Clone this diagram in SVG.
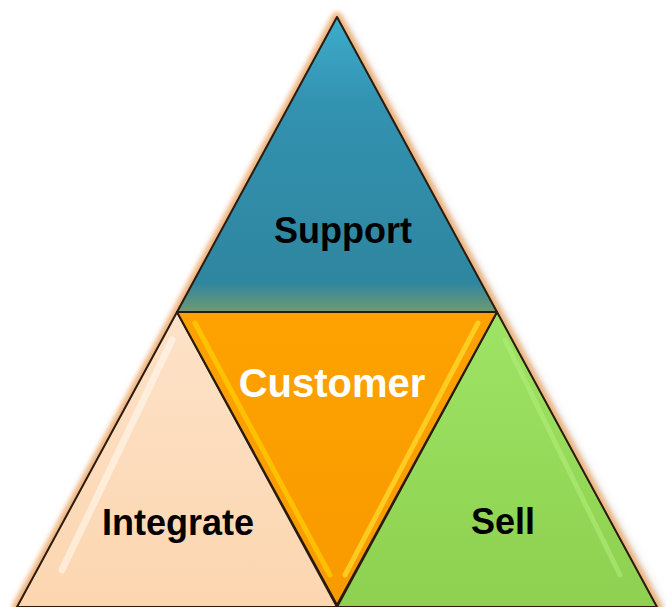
<svg xmlns="http://www.w3.org/2000/svg" width="666" height="607" viewBox="0 0 666 607">
<defs>
<filter id="soft" x="-10%" y="-10%" width="120%" height="120%">
<feGaussianBlur stdDeviation="2.5"/>
</filter>
<filter id="shadow" x="-10%" y="-10%" width="120%" height="120%">
<feGaussianBlur stdDeviation="6"/>
</filter>
<linearGradient id="gBlue" x1="0" y1="0" x2="0" y2="1">
<stop offset="0" stop-color="#3eaccc"/>
<stop offset="0.3" stop-color="#3292b0"/>
<stop offset="0.9" stop-color="#2f86a0"/>
<stop offset="1" stop-color="#6f9a70"/>
</linearGradient>
<linearGradient id="gOrange" x1="0" y1="0" x2="0" y2="1">
<stop offset="0" stop-color="#fda200"/>
<stop offset="1" stop-color="#f99a00"/>
</linearGradient>
<linearGradient id="gPeach" x1="0" y1="0" x2="0" y2="1">
<stop offset="0" stop-color="#fde2c8"/>
<stop offset="1" stop-color="#fcd6b0"/>
</linearGradient>
<linearGradient id="gGreen" x1="0" y1="0" x2="0" y2="1">
<stop offset="0" stop-color="#9ee464"/>
<stop offset="1" stop-color="#8ed050"/>
</linearGradient>
<style>
.tri{stroke:#2a1a10;stroke-width:2;stroke-linejoin:round}
.lbl{font-family:"Liberation Sans",Arial,sans-serif;font-weight:bold;text-anchor:middle}
.hl{fill:none;stroke-linecap:round}
</style>
</defs>
<polygon points="342,22 24,612 664,612" fill="#b0b0b0" opacity="0.6" filter="url(#shadow)"/>
<polygon points="337,17 17,607 657,607" fill="#eeb27a" stroke="#eeb27a" stroke-width="10" stroke-linejoin="round" filter="url(#soft)"/>
<g id="support">
<polygon class="tri" points="337,17 177,312 497,312" fill="url(#gBlue)"/>
<text class="lbl" x="343" y="243" font-size="36" fill="#000">Support</text>
</g>
<g id="integrate">
<polygon class="tri" points="177,312 17,607 337,607" fill="url(#gPeach)"/>
<path class="hl" d="M172,340 L62,570" stroke="#fff8ee" stroke-width="7" opacity="0.6"/>
<text class="lbl" x="178" y="535" font-size="36" fill="#000">Integrate</text>
</g>
<g id="sell">
<polygon class="tri" points="497,312 337,607 657,607" fill="url(#gGreen)"/>
<path class="hl" d="M505,340 L620,575" stroke="#b8f080" stroke-width="5" opacity="0.5"/>
<text class="lbl" x="503" y="534" font-size="36" fill="#000">Sell</text>
</g>
<g id="customer">
<polygon class="tri" points="177,312 497,312 337,605" fill="url(#gOrange)"/>
<path class="hl" d="M195,323 L330,575" stroke="#ffd000" stroke-width="5" opacity="0.7"/>
<path class="hl" d="M478,323 L345,575" stroke="#ffe030" stroke-width="5" opacity="0.7"/>
<text class="lbl" x="332" y="397" font-size="40" fill="#fff">Customer</text>
</g>
</svg>
